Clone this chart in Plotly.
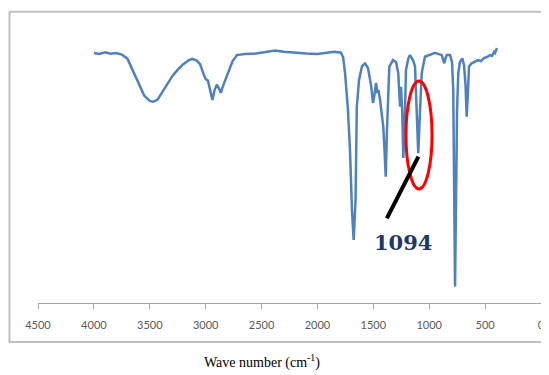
import plotly.graph_objects as go

# Wave numbers (cm-1) and transmittance (arbitrary %)
wavenumber = [4000, 3950, 3900, 3850, 3800, 3750, 3700, 3650, 3600, 3550, 3500, 3470, 3430, 3400,
              3350, 3300, 3250, 3200, 3150, 3120, 3080, 3050, 3020, 3000, 2980, 2960, 2940, 2920,
              2900, 2880, 2865, 2840, 2800, 2760, 2720, 2650, 2550, 2450, 2380, 2300, 2200, 2100,
              2000, 1950, 1900, 1850, 1790, 1770, 1753, 1727, 1709, 1691, 1676, 1659, 1648, 1628,
              1601, 1575, 1548, 1521, 1503, 1490, 1476, 1464, 1454, 1440, 1425, 1411, 1400, 1389,
              1378, 1357, 1324, 1297, 1277, 1261, 1252, 1241, 1232, 1221, 1208, 1187, 1172, 1145,
              1127, 1114, 1098, 1082, 1067, 1038, 993, 948, 888, 877, 865, 854, 843, 814, 796,
              785, 777, 769, 760, 751, 740, 725, 704, 689, 675, 665, 655, 644, 620, 590, 564,
              537, 510, 483, 456, 438, 420, 411, 403, 394]
transmittance = [91.6, 91.2, 91.8, 91.3, 91.6, 91.0, 89.5, 85.0, 80.0, 76.0, 74.0, 73.7, 74.5, 76.5,
                 80.0, 83.0, 85.5, 87.5, 89.0, 89.4, 88.8, 87.5, 84.0, 82.0, 81.5, 78.0, 74.4, 78.0,
                 80.0, 78.5, 77.0, 80.0, 84.0, 88.5, 90.8, 91.2, 91.4, 92.0, 92.5, 92.0, 91.6, 91.4,
                 91.2, 91.6, 91.8, 92.0, 91.7, 90.0, 84.2, 70.7, 56.0, 34.0, 23.1, 37.7, 71.8, 81.7,
                 86.8, 87.8, 86.1, 79.9, 73.3, 76.2, 80.6, 76.9, 78.0, 74.4, 68.2, 64.6, 56.0, 46.3,
                 63.4, 86.6, 89.0, 88.3, 84.2, 71.9, 79.2, 69.6, 53.1, 63.4, 85.3, 89.6, 90.8, 89.0,
                 86.6, 74.4, 54.9, 70.7, 84.2, 90.2, 90.8, 91.6, 90.8, 89.0, 87.8, 89.7, 90.8, 90.8, 88.3,
                 78.0, 45.0, 6.0, 37.7, 70.7, 84.2, 88.3, 89.6, 87.2, 79.9, 68.2, 76.2, 86.6, 87.8, 88.3, 89.0,
                 88.6, 89.7, 90.1, 90.8, 90.5, 92.0, 91.6, 93.0, 93.4]

tick_values = [4500, 4000, 3500, 3000, 2500, 2000, 1500, 1000, 500, 0]
tick_labels = ["4500", "4000", "3500", "3000", "2500", "2000", "1500", "1000", "500", "0"]

marked_peak = "1094"
ellipse_x = [1208, 975]
ellipse_y = [41.8, 81.3]
pointer_x = [1097, 1379]
pointer_y = [53.6, 31.0]
label_pos = [1235, 22.0]

fig = go.Figure()
fig.add_trace(go.Scatter(x=wavenumber, y=transmittance, mode="lines",
                         line=dict(color="#4F81BD", width=2.5), showlegend=False,
                         hoverinfo="skip"))

fig.add_shape(type="circle", xref="x", yref="y",
              x0=ellipse_x[0], x1=ellipse_x[1], y0=ellipse_y[0], y1=ellipse_y[1],
              line=dict(color="#FF0000", width=3))
fig.add_shape(type="line", xref="x", yref="y",
              x0=pointer_x[0], y0=pointer_y[0], x1=pointer_x[1], y1=pointer_y[1],
              line=dict(color="#000000", width=4))
fig.add_annotation(x=label_pos[0], y=label_pos[1], xref="x", yref="y", text="<b>" + marked_peak + "</b>",
                   showarrow=False, font=dict(family="DejaVu Serif", size=21, color="#1F3864"))

# outer chart border
fig.add_shape(type="rect", xref="paper", yref="paper", x0=-0.0567, x1=1.05, y0=-0.143, y1=1.067,
              line=dict(color="#BFBFBF", width=2), layer="below")

# page body has an 8px margin, so the figure is sized to fill the rest of the window
fig.update_layout(
    width=541, height=367,
    margin=dict(l=30, r=8, t=22, b=72, autoexpand=False),
    paper_bgcolor="white", plot_bgcolor="white",
    title=dict(text="Wave number (cm<sup>-1</sup>)", x=0.4695, xanchor="center",
               xref="container", yref="container", y=0.036, yanchor="middle",
               font=dict(family="Liberation Serif", size=14, color="#000000")),
    xaxis=dict(range=[4500, 0], tickvals=tick_values, ticktext=tick_labels,
               showgrid=False, zeroline=False, showline=True, linecolor="#A6A6A6", linewidth=1,
               ticks="outside", ticklen=5, tickcolor="#A6A6A6", automargin=False,
               tickfont=dict(family="Lato", size=11, color="#595959"), ticklabelstandoff=7),
    yaxis=dict(range=[0, 100], visible=False),
)

fig.write_html("out.html")
